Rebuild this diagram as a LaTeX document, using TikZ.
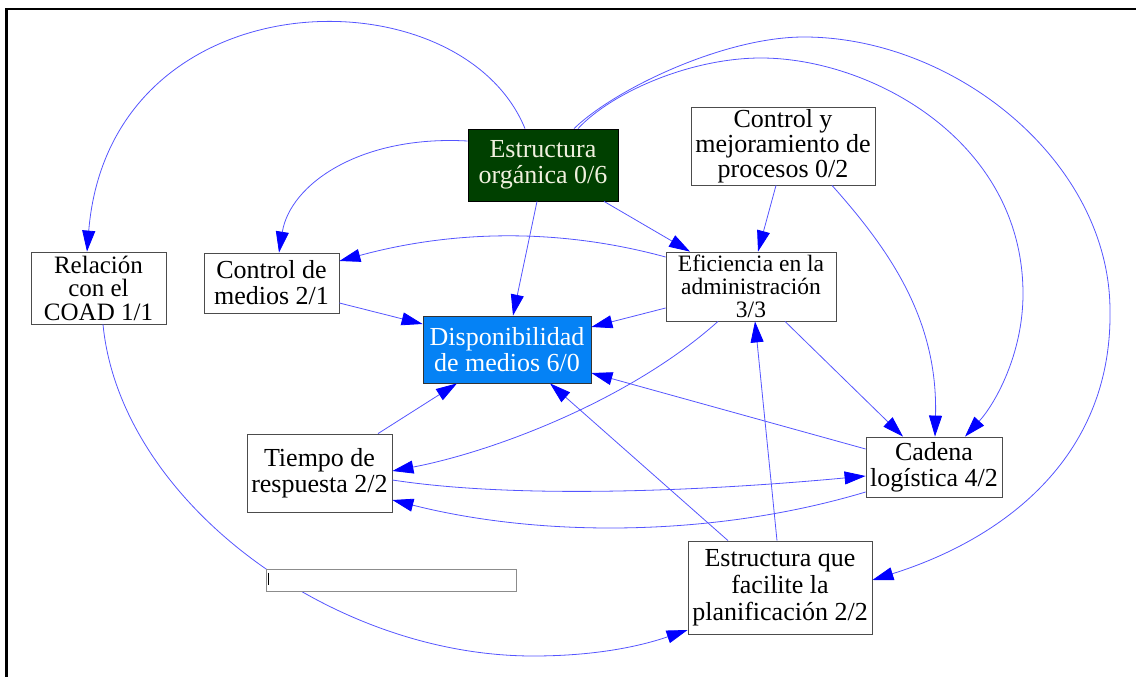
\documentclass[tikz,border=0pt]{standalone}
\usepackage{fontspec}
\setmainfont{Liberation Serif}
\usetikzlibrary{arrows.meta}
\definecolor{edgeblue}{RGB}{85,85,255}
\definecolor{orggreen}{RGB}{0,64,0}
\definecolor{orgtext}{RGB}{240,240,222}
\definecolor{dispblue}{RGB}{5,130,245}

\begin{document}
\begin{tikzpicture}[
    x=1pt, y=-1pt,
    ->,
    >={Triangle[length=21pt, width=13pt, color=blue]},
    line width=0.8pt,
    box/.style={rectangle, draw=black!70, line width=0.8pt, fill=white, inner sep=0pt, align=center, font=\fontsize{26}{26}\selectfont},
    orgbox/.style={box, draw=black, fill=orggreen, text=orgtext},
    dispbox/.style={box, draw=black!80, fill=dispblue, text=white},
    link/.style={draw=edgeblue, line width=0.8pt}
  ]

  \useasboundingbox (0,0) rectangle (1136,677);
  \draw[-, line width=2.8pt] (6.8,700) -- (6.8,9) -- (1150,9);

  % --- NODE POSITIONING ---
  \node[orgbox, minimum width=150pt, minimum height=72pt] (orga) at (543,165) {Estructura\\orgánica 0/6};
  \node[box, minimum width=184pt, minimum height=78pt, font=\fontsize{26}{25}\selectfont] (cmej) at (783,146) {Control y\\mejoramiento de\\procesos 0/2};
  \node[box, minimum width=135pt, minimum height=72pt, font=\fontsize{25}{23.5}\selectfont] (rel) at (98.5,288) {Relación\\con el\\COAD 1/1};
  \node[box, minimum width=135pt, minimum height=60pt] (cmed) at (271.5,283) {Control de\\medios 2/1};
  \node[box, minimum width=170pt, minimum height=69pt, font=\fontsize{23.5}{23}\selectfont] (efic) at (751,286.5) {Eficiencia en la\\administración\\3/3};
  \node[dispbox, minimum width=168pt, minimum height=67pt] (disp) at (507,349.5) {Disponibilidad\\de medios 6/0};
  \node[box, minimum width=145pt, minimum height=78pt] (tiem) at (319.5,473) {Tiempo de\\respuesta 2/2};
  \node[box, minimum width=136pt, minimum height=60pt] (cad) at (934,467) {Cadena\\logística 4/2};
  \node[box, minimum width=184pt, minimum height=93pt, font=\fontsize{26}{27}\selectfont] (plan) at (780,587.5) {Estructura que\\facilite la\\planificación 2/2};

  % --- INFLUENCES ---

  % 1. From the organic structure
  \draw[link] ([xshift=-18pt]orga.north) .. controls +(-65,-159) and +(23,-277) .. ([xshift=-11.5pt]rel.north);
  \draw[link] ([yshift=24pt]orga.west) .. controls +(-108,-6) and +(11,-68) .. ([xshift=7.5pt]cmed.north);
  \draw[link] ([xshift=-6pt]orga.south) -- ([xshift=6pt]disp.north);
  \draw[link] ([xshift=61pt]orga.south) -- ([xshift=-61pt]efic.north);
  \draw[link] ([xshift=31pt]orga.north) .. controls (615,89) and (724,37) .. (804,37)
              .. controls (954,37) and (1110,161) .. (1110,311)
              .. controls (1112,460) and (1000,540) .. ([yshift=7.5pt]plan.east);
  \draw[link] ([xshift=35pt]orga.north) .. controls (612,92) and (691,58) .. (761,58)
              .. controls (870,58) and (1023,140) .. (1023,294)
              .. controls (1023,354) and (995,404) .. ([xshift=31pt]cad.north);

  % 2. From process control
  \draw[link] ([xshift=-7pt]cmej.south) -- ([xshift=7pt]efic.north);
  \draw[link] ([xshift=49pt]cmej.south) .. controls +(58,65) and +(3,-117) .. ([xshift=1pt]cad.north);

  % 3. From efficiency
  \draw[link] ([yshift=29.5pt]efic.west) .. controls +(-110,-30) and +(110,-30) .. ([yshift=22pt]cmed.east);
  \draw[link] ([yshift=-21.5pt]efic.west) -- ([yshift=22.5pt]disp.east);
  \draw[link] ([xshift=34pt]efic.south) -- ([xshift=-31pt]cad.north);
  \draw[link] ([xshift=-33pt]efic.south) .. controls +(-88,79) and +(100,-19) .. ([yshift=2pt]tiem.east);

  % 4. Into availability
  \draw[link] ([yshift=-20pt]cmed.east) -- ([yshift=25.5pt]disp.west);
  \draw[link] ([xshift=58.5pt]tiem.north) -- ([xshift=-50pt]disp.south);
  \draw[link] ([xshift=-52pt]plan.north) -- ([xshift=43pt]disp.south);
  \draw[link] ([yshift=18pt]cad.west) -- ([yshift=-23.5pt]disp.east);
  \draw[link] ([xshift=-3pt]plan.north) -- ([xshift=4pt]efic.south);

  % 5. Response time and logistics
  \draw[link] ([yshift=-7pt]tiem.east) .. controls +(130,20) and +(-150,14) .. ([yshift=-9pt]cad.west);
  \draw[link] ([yshift=-25pt]cad.west) .. controls +(-150,45) and +(150,38) .. ([yshift=-27pt]tiem.east);

  % 6. From COAD
  \draw[link] ([xshift=4.5pt]rel.south) .. controls (120,500) and (330,656) .. (533,656)
              .. controls (593,656) and (638,647) .. ([yshift=-42.5pt]plan.west);

  % --- EMPTY FIELD ---
  \node[box, draw=black!45, minimum width=250pt, minimum height=22pt] (blank) at (391,580) {};
  \draw[-, line width=0.8pt] ([xshift=2.5pt, yshift=-4pt]blank.north west) -- ([xshift=2.5pt, yshift=6pt]blank.south west);

\end{tikzpicture}
\end{document}
